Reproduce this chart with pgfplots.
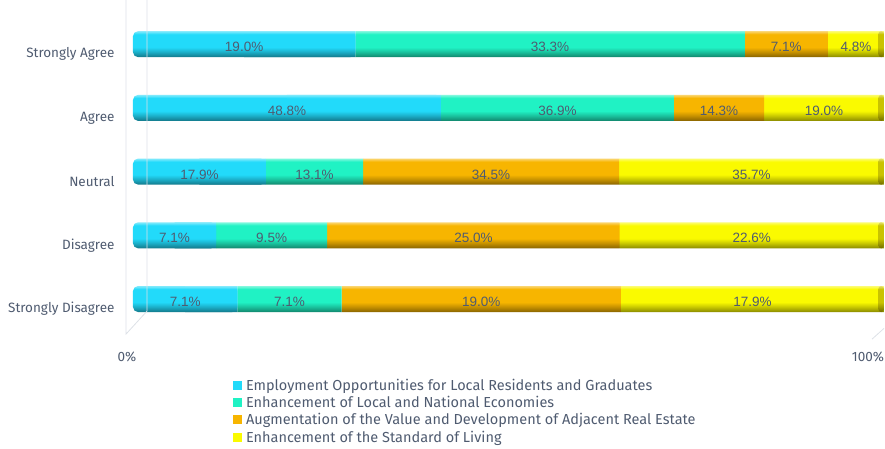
\documentclass[border=0pt]{standalone}
\usepackage{pgfplots}
\pgfplotsset{compat=1.18}
\usepackage{pgfplotstable}
\usepackage{fontspec}
\setmainfont{Fira Sans}
\newfontfamily\barfont{Liberation Sans}

\definecolor{c1}{HTML}{22DAFA}
\definecolor{c2}{HTML}{20F2C4}
\definecolor{c3}{HTML}{F7B500}
\definecolor{c4}{HTML}{FAFA00}
\definecolor{cap}{HTML}{C9C300}
\definecolor{txt}{HTML}{4F5B70}
\definecolor{wall}{HTML}{DDE1E7}

% cylinder look: one band of stops per row (the whole series is one path,
% whose box is mapped onto 25bp..75bp of the shading)
\newcommand\rowstops[5]{color(#1bp)=(#5!55!black); color(#2bp)=(#5!80!black); color(#3bp)=(#5); color(#4bp)=(#5); }
\newcommand\cyl[2]{%
  \pgfdeclareverticalshading{#1}{100bp}{color(0bp)=(#2!55!black);
    \rowstops{25}{25.926}{26.759}{29.073}{#2}%
    color(29.628bp)=(#2!55!white);
    \rowstops{36.343}{37.269}{38.102}{40.416}{#2}%
    color(40.971bp)=(#2!55!white);
    \rowstops{47.686}{48.612}{49.445}{51.759}{#2}%
    color(52.314bp)=(#2!55!white);
    \rowstops{59.029}{59.955}{60.788}{63.102}{#2}%
    color(63.657bp)=(#2!55!white);
    \rowstops{70.372}{71.298}{72.131}{74.445}{#2}%
    color(75bp)=(#2!55!white); color(100bp)=(#2!55!white)}}
\cyl{sh1}{c1}\cyl{sh2}{c2}\cyl{sh3}{c3}\cyl{sh4}{c4}\cyl{shc}{cap}

% rows: Strongly Agree .. Strongly Disagree; bars show share of the row total
\pgfplotstableread{
row a b c d
0 19.0 33.3 7.1 4.8
1 48.8 36.9 14.3 19.0
2 17.9 13.1 34.5 35.7
3 7.1 9.5 25.0 22.6
4 7.1 7.1 19.0 17.9
}\data

\def\tot{(\thisrow{a}+\thisrow{b}+\thisrow{c}+\thisrow{d})}

\pgfplotsset{
  base/.style={
    scale only axis, width=751bp, height=343bp,
    at={(0,0)}, anchor=south west,
    xmin=0, xmax=100, ymin=-0.693, ymax=4.69, y dir=reverse,
    clip=false,
  },
  lbl/.style={draw=none, no marks, nodes near coords, point meta=explicit symbolic,
    nodes near coords={\pgfplotspointmeta\%},
    every node near coord/.append style={anchor=center, yshift=-3bp, text=txt,
      font=\barfont\fontsize{13.5bp}{15bp}\selectfont}},
}

\begin{document}
\begin{tikzpicture}
\begin{axis}[base,
    xbar stacked, bar width=26bp,
    axis line style={draw=none}, major tick length=0pt,
    xtick={0}, xticklabels={0\%},
    extra x ticks={100}, extra x tick labels={100\%},
    extra x tick style={x tick label style={xshift=-10bp}},
    ytick={0,1,2,3,4},
    yticklabels={Strongly Agree,Agree,Neutral,Disagree,Strongly Disagree},
    tick label style={text=txt, font=\fontsize{13.5bp}{15bp}\selectfont},
    x tick label style={xshift=-6bp, yshift=-5bp},
    y tick label style={xshift=-15bp, yshift=-10bp},
]
  \draw[wall, line width=0.8pt] (axis cs:-0.93,-0.693) -- (axis cs:-0.93,4.55) -- (axis cs:1.86,4.19) -- (axis cs:1.86,-0.693);
  \draw[wall, line width=0.8pt] (axis cs:98.4,4.63) -- (axis cs:100,4.46);
  \addplot[draw=none, shading=sh1, rounded corners=5bp] table[x expr={\thisrow{a}/\tot*100}, y=row] {\data};
  \addplot[draw=none, shading=sh2] table[x expr={\thisrow{b}/\tot*100}, y=row] {\data};
  \addplot[draw=none, shading=sh3] table[x expr={\thisrow{c}/\tot*100}, y=row] {\data};
  \addplot[draw=none, shading=sh4] table[x expr={\thisrow{d}/\tot*100}, y=row] {\data};
\end{axis}
% square off the right end of the first segment, and the end cap of each bar
\begin{axis}[base, hide axis, xbar stacked, bar width=26bp]
  \addplot[draw=none, fill=none] table[x expr={\thisrow{a}/2/\tot*100}, y=row] {\data};
  \addplot[draw=none, shading=sh1] table[x expr={\thisrow{a}/2/\tot*100}, y=row] {\data};
  \addplot[draw=none, fill=none] table[x expr={(\thisrow{b}+\thisrow{c}+\thisrow{d})/\tot*100-0.75}, y=row] {\data};
  \addplot[draw=none, shading=shc, rounded corners=2.8bp] table[x expr={0.75}, y=row] {\data};
\end{axis}
\begin{axis}[base, hide axis,
    legend style={at={(0.133,-0.098)}, anchor=north west, draw=none, fill=none,
      inner sep=0pt, row sep=0.6bp, column sep=2bp, text=txt,
      font=\fontsize{14.5bp}{17bp}\selectfont},
    legend cell align=left,
    legend image code/.code={\fill (0bp,-4.5bp) rectangle (9bp,4.5bp);},
]
  \addplot[lbl] table[x expr={(\thisrow{a}/2)/\tot*100}, y=row, meta=a] {\data};
  \addplot[lbl] table[x expr={(\thisrow{a}+\thisrow{b}/2)/\tot*100}, y=row, meta=b] {\data};
  \addplot[lbl] table[x expr={(\thisrow{a}+\thisrow{b}+\thisrow{c}/2)/\tot*100}, y=row, meta=c] {\data};
  \addplot[lbl] table[x expr={(\thisrow{a}+\thisrow{b}+\thisrow{c}+\thisrow{d}/2)/\tot*100}, y=row, meta=d] {\data};
  \addlegendimage{fill=c1, draw=none}
  \addlegendimage{fill=c2, draw=none}
  \addlegendimage{fill=c3, draw=none}
  \addlegendimage{fill=c4, draw=none}
  \legend{,,,,Employment Opportunities for Local Residents and Graduates,
    Enhancement of Local and National Economies,
    Augmentation of the Value and Development of Adjacent Real Estate,
    Enhancement of the Standard of Living}
\end{axis}
\pgfresetboundingbox
\path (-133bp,-106bp) rectangle (752bp,343bp);
\end{tikzpicture}
\end{document}
